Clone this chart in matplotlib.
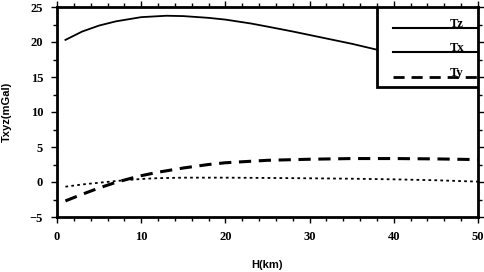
import matplotlib
matplotlib.use("Agg")
import matplotlib.pyplot as plt
from matplotlib.ticker import MultipleLocator
from matplotlib.patches import Rectangle

# Data
h_solid = [1, 3, 5, 7, 10, 13, 15, 18, 20, 23, 25, 28, 30, 33, 35, 38, 40, 45, 50]
tz = [20.3, 21.5, 22.35, 22.95, 23.55, 23.75, 23.7, 23.45, 23.2, 22.65, 22.2, 21.5, 21.0, 20.25, 19.75, 18.9, 18.4, 17.1, 15.8]

h_dash = [1, 3, 5, 7, 9, 10, 12, 15, 18, 20, 25, 30, 35, 40, 45, 50]
ty = [-2.7, -1.75, -0.85, -0.05, 0.6, 0.9, 1.4, 2.0, 2.5, 2.75, 3.1, 3.25, 3.35, 3.35, 3.3, 3.2]

h_dot = [1, 3, 5, 8, 10, 12, 15, 20, 25, 30, 35, 40, 45, 50]
tx = [-0.67, -0.35, -0.1, 0.25, 0.43, 0.55, 0.62, 0.62, 0.58, 0.53, 0.47, 0.38, 0.25, 0.05]

legend_labels = ["Tz", "Tx", "Ty"]
legend_styles = ["-", "-", "--"]

W, H = 485, 272
fig = plt.figure(figsize=(W/100, H/100), dpi=100)
ax = fig.add_axes([57/W, 1-217/H, (478-57)/W, (217-7)/H])

ax.plot(h_solid, tz, color="black", lw=1.3, ls="-", zorder=2)
ax.plot(h_dash, ty, color="black", lw=2.2, ls=(0, (4, 2.5)), zorder=2)
ax.plot(h_dot, tx, color="black", lw=1.3, ls=(0, (1.5, 1.8)), zorder=2)

ax.set_xlim(0, 50)
ax.set_ylim(-5, 25)
ax.xaxis.set_major_locator(MultipleLocator(10))
ax.xaxis.set_minor_locator(MultipleLocator(2))
ax.yaxis.set_major_locator(MultipleLocator(5))
ax.yaxis.set_minor_locator(MultipleLocator(2.5))
ax.tick_params(which="both", direction="out", top=True, right=True, width=1.0)
ax.tick_params(which="major", length=4, labelsize=9, pad=6)
ax.tick_params(which="minor", length=3)
ax.tick_params(axis="x", which="both", labeltop=False)
ax.tick_params(axis="y", which="both", labelright=False)
for lab in ax.get_xticklabels() + ax.get_yticklabels():
    lab.set_fontfamily("Liberation Serif")
    lab.set_fontweight("bold")
for sp in ax.spines.values():
    sp.set_linewidth(2.0)

fig.text(267.5/W, 1-265/H, "H(km)", ha="center", va="center",
         fontfamily="Liberation Sans", fontweight="bold", fontsize=8)
fig.text(7/W, 1-112/H, "Txyz(mGal)", ha="center", va="center", rotation=90,
         fontfamily="Liberation Sans", fontweight="bold", fontsize=8)

# Legend box (custom, as in the reference)
bx0 = (377-57)/(478-57)
by0 = 1-(87-7)/210
rect = Rectangle((bx0, by0), 1-bx0, 1-by0, transform=ax.transAxes,
                 facecolor="white", edgecolor="black", lw=2.0, zorder=3)
ax.add_patch(rect)
ys = [1-(28-7)/210, 1-(52-7)/210, 1-(77-7)/210]
lx0 = (393-57)/(478-57)
for lab, st, yy in zip(legend_labels, legend_styles, ys):
    lw = 2.0 if st == "--" else 1.5
    ls = (0, (4, 2.5)) if st == "--" else "-"
    ax.plot([lx0, 1.0], [yy, yy], transform=ax.transAxes, color="black",
            lw=lw, ls=ls, zorder=4, clip_on=False)
    ax.text((464-57)/421, yy - 0.01, lab, transform=ax.transAxes, ha="right", va="bottom",
            fontfamily="Liberation Serif", fontweight="bold", fontsize=9, zorder=5)

fig.savefig("out.png", dpi=100)
